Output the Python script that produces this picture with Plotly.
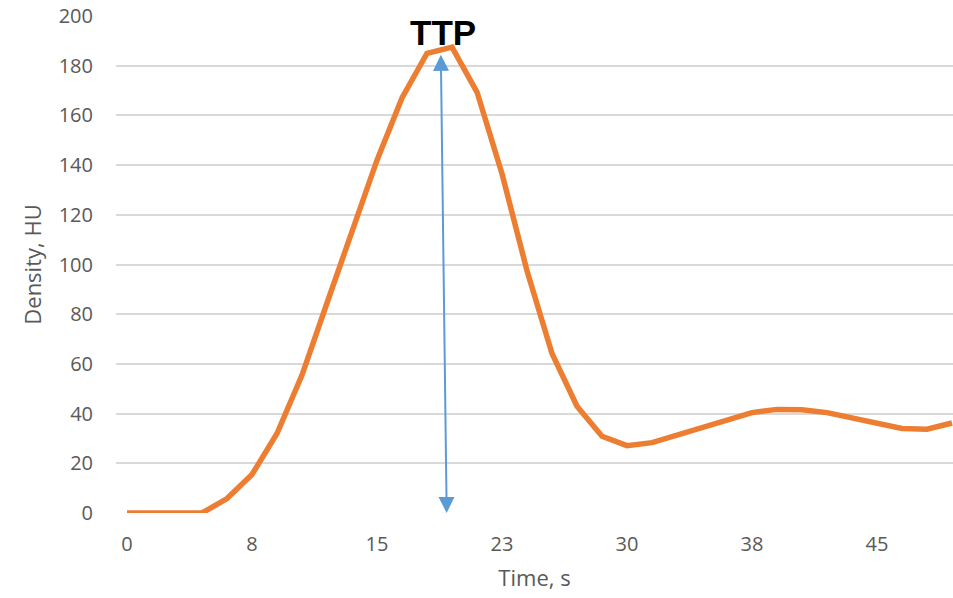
import plotly.graph_objects as go

# ---- data ----
step_s = 1.5
density_hu = [0, 0, 0, 0, 5.8, 15.5, 32, 55.5, 84.5, 113.5, 142, 167, 185, 187.5,
              169.4, 136.5, 97.5, 64.2, 43, 30.9, 27.1, 28.3, 31.3, 34.5, 37.4,
              40.4, 41.7, 41.5, 40.4, 38.4, 36.2, 34, 33.7, 36.2]
time_s = [i * step_s for i in range(len(density_hu))]
tick_vals = [0, 7.5, 15, 22.5, 30, 37.5, 45]
tick_text = ["0", "8", "15", "23", "30", "38", "45"]
y_ticks = list(range(0, 201, 20))

# TTP arrow (tail near the peak, head at the baseline) and label
arrow_top = (18.83, 185)
arrow_bottom = (19.18, 0)
ttp_label = (18.96, 193.4)

fig = go.Figure()
fig.add_trace(go.Scatter(
    x=time_s, y=density_hu, mode="lines",
    line=dict(color="#ED7D31", width=5.5),
    showlegend=False, hoverinfo="skip"))

fig.add_annotation(
    x=arrow_bottom[0], y=arrow_bottom[1], xref="x", yref="y",
    ax=arrow_top[0], ay=arrow_top[1], axref="x", ayref="y",
    text="", showarrow=True, arrowside="end+start",
    arrowhead=2, startarrowhead=2, arrowsize=1.6, startarrowsize=1.6,
    arrowwidth=2, arrowcolor="#5B9BD5", standoff=0, startstandoff=0)

fig.add_annotation(
    x=ttp_label[0], y=ttp_label[1], xref="x", yref="y",
    text="<b>TTP</b>", showarrow=False,
    font=dict(family="Liberation Sans, Arial", size=35, color="#000000"))

fig.update_layout(
    width=953, height=598,
    margin=dict(l=116, r=0, t=16, b=85),
    paper_bgcolor="white", plot_bgcolor="white",
    font=dict(family="Open Sans", color="#595959"),
    xaxis=dict(
        range=[-0.66, 49.56], tickmode="array",
        tickvals=tick_vals, ticktext=tick_text,
        showgrid=False, zeroline=False, showline=False, automargin=False,
        tickfont=dict(size=20, color="#595959"),
        ticklabelstandoff=17,
        title=dict(text="Time, s", font=dict(size=22, color="#595959"), standoff=14),
    ),
    yaxis=dict(
        range=[0, 200], tickmode="array", tickvals=y_ticks,
        showgrid=True, gridcolor="#D9D9D9", gridwidth=1.5,
        zeroline=False, showline=False, automargin=False,
        tickfont=dict(size=20, color="#595959"),
        ticklabelstandoff=22,
        title=dict(text="Density, HU", font=dict(size=22, color="#595959"), standoff=10),
    ),
)

fig.write_html(
    "out.html",
    config={"displayModeBar": False},
    post_script="document.body.style.margin='0px';document.body.style.overflow='hidden';",
)
